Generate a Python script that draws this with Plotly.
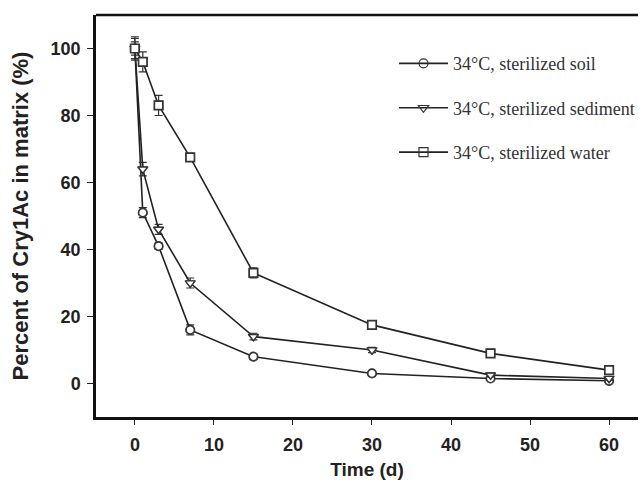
import plotly.graph_objects as go

time_d = [0, 1, 3, 7, 15, 30, 45, 60]

soil = [100, 51, 41, 16, 8, 3, 1.5, 0.8]
soil_err = [2, 1.5, 1, 1.5, 0.8, 0.5, 0.5, 0.5]

sediment = [100, 64, 46, 30, 14, 10, 2.5, 1.5]
sediment_err = [3, 2, 1.5, 1.5, 1, 0.8, 0.5, 0.5]

water = [100, 96, 83, 67.5, 33, 17.5, 9, 4]
water_err = [3.5, 3, 3, 0.8, 1.5, 0.8, 0.8, 1]

series_names = ["34°C, sterilized soil", "34°C, sterilized sediment", "34°C, sterilized water"]
series_symbols = ["circle-open", "triangle-down-open", "square-open"]

x_ticks = [0, 10, 20, 30, 40, 50, 60]
y_ticks = [0, 20, 40, 60, 80, 100]

fig = go.Figure()
for i, (vals, errs) in enumerate([(soil, soil_err), (sediment, sediment_err), (water, water_err)]):
    fig.add_trace(go.Scatter(
        x=time_d, y=vals, name=series_names[i], mode="lines+markers",
        legendgroup=f"g{i}",
        line=dict(color="#222222", width=1.6),
        marker=dict(symbol=series_symbols[i], size=9, color="#333333",
                    line=dict(color="#333333", width=1.2)),
        error_y=dict(type="data", array=errs, visible=True, color="#333333",
                     thickness=1.2, width=4),
    ))
    fig.add_trace(go.Scatter(
        x=time_d, y=vals, mode="markers", showlegend=False, hoverinfo="skip",
        marker=dict(symbol=series_symbols[i].replace("-open", ""), size=8, color="white",
                    line=dict(color="#333333", width=1.2)),
    ))

fig.update_layout(
    width=640, height=493,
    margin=dict(l=96, r=0, t=15, b=76),
    plot_bgcolor="white", paper_bgcolor="white",
    showlegend=True,
    legend=dict(x=0.55, y=0.925, xanchor="left", yanchor="top",
                font=dict(family="Liberation Serif", size=18, color="#333333"),
                bgcolor="rgba(0,0,0,0)", tracegroupgap=18, itemwidth=49),
    font=dict(family="Liberation Sans", color="#222222"),
)
fig.update_xaxes(
    range=[-4.92, 63.66], tickvals=x_ticks, ticks="outside", ticklen=5,
    tickcolor="#222222", showline=True, linecolor="#111111", linewidth=2.5,
    mirror=False, showgrid=False, zeroline=False, automargin=False,
    ticklabelstandoff=5,
    tickfont=dict(family="Liberation Sans", size=18, color="#222222", weight="bold"),
    title=dict(text="<b>Time (d)</b>", font=dict(family="Liberation Sans", size=19, color="#222222"),
               standoff=9),
)
fig.update_yaxes(
    range=[-10, 110], tickvals=y_ticks, ticks="outside", ticklen=6,
    tickcolor="#222222", showline=True, linecolor="#111111", linewidth=2.5,
    showgrid=False, zeroline=False, automargin=False,
    ticklabelstandoff=3,
    tickfont=dict(family="Liberation Sans", size=18, color="#222222", weight="bold"),
    title=dict(text="<b>Percent of Cry1Ac in matrix (%)</b>",
               font=dict(family="Liberation Sans", size=22, color="#222222"), standoff=16),
)
fig.add_shape(type="line", xref="paper", yref="paper", x0=0, x1=1, y0=1, y1=1,
              line=dict(color="#111111", width=2.5))

fig.write_html("out.html",
               config={"displayModeBar": False},
               post_script="document.body.style.margin='0';document.body.style.overflow='hidden';")
